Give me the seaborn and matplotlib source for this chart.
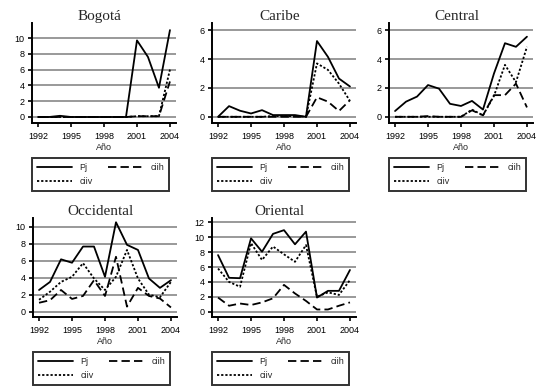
import matplotlib
matplotlib.use('Agg')
import matplotlib.pyplot as plt
import pandas as pd
import seaborn as sns

years = list(range(1992, 2005))

bogota_pj = [0, 0, 0.15, 0, 0, 0, 0, 0, 0, 9.7, 7.6, 3.7, 11.0]
bogota_ciih = [0, 0, 0, 0, 0, 0, 0, 0, 0, 0.1, 0.1, 0.1, 4.5]
bogota_ciiv = [0, 0, 0, 0, 0, 0, 0, 0, 0, 0.1, 0.1, 0.1, 6.0]

caribe_pj = [0, 0.74, 0.42, 0.23, 0.46, 0.12, 0.12, 0.12, 0, 5.25, 4.15, 2.65, 2.1]
caribe_ciih = [0, 0, 0, 0, 0, 0, 0, 0, 0, 1.35, 1.05, 0.4, 1.15]
caribe_ciiv = [0, 0, 0, 0, 0, 0.05, 0.05, 0.05, 0, 3.7, 3.25, 2.3, 1.1]

central_pj = [0.4, 1.05, 1.4, 2.2, 1.95, 0.9, 0.75, 1.1, 0.5, 3.0, 5.1, 4.85, 5.55]
central_ciih = [0, 0, 0, 0.05, 0, 0, 0, 0.45, 0.1, 1.5, 1.5, 2.3, 0.65]
central_ciiv = [0, 0, 0, 0, 0, 0, 0, 0.5, 0.1, 1.45, 3.6, 2.4, 4.85]

occidental_pj = [2.55, 3.5, 6.15, 5.75, 7.65, 7.65, 4.1, 10.5, 7.85, 7.25, 3.9, 2.8, 3.7]
occidental_ciih = [1.05, 1.35, 2.55, 1.5, 1.85, 3.7, 1.85, 6.45, 0.6, 2.8, 1.85, 1.55, 0.5]
occidental_ciiv = [1.4, 2.35, 3.5, 4.1, 5.7, 3.9, 2.55, 4.1, 7.25, 3.9, 2.0, 1.7, 3.5]

oriental_pj = [7.6, 4.55, 4.5, 9.85, 8.05, 10.45, 10.95, 9.05, 10.75, 1.9, 2.8, 2.8, 5.6]
oriental_ciih = [1.9, 0.8, 1.1, 0.9, 1.25, 1.8, 3.6, 2.45, 1.45, 0.3, 0.3, 0.8, 1.25]
oriental_ciiv = [5.8, 4.0, 3.35, 9.2, 6.95, 8.75, 7.7, 6.7, 8.95, 2.0, 2.6, 2.25, 4.25]

xticks = [1992, 1995, 1998, 2001, 2004]

sns.set_style('white')
plt.rcParams['font.family'] = ['Liberation Sans', 'DejaVu Sans']
plt.rcParams['lines.scale_dashes'] = False

W, H = 536, 389
fig = plt.figure(figsize=(W / 100, H / 100), dpi=100)

# paneles: titulo, datos, limites y, ticks y, posicion (px)
panels = [
    ('Bogotá', bogota_pj, bogota_ciih, bogota_ciiv, (-0.76, 11.9), range(0, 11, 2), 32, 23, 123),
    ('Caribe', caribe_pj, caribe_ciih, caribe_ciiv, (-0.43, 6.5), range(0, 7, 2), 212, 23, 123),
    ('Central', central_pj, central_ciih, central_ciiv, (-0.43, 6.5), range(0, 7, 2), 389, 23, 123),
    ('Occidental', occidental_pj, occidental_ciih, occidental_ciiv, (-0.62, 11.0), range(0, 11, 2), 33, 218, 317),
    ('Oriental', oriental_pj, oriental_ciih, oriental_ciiv, (-0.71, 12.58), range(0, 13, 2), 212, 218, 317),
]

dashes = {'Pj': '', 'ciih': (6, 3), 'ciiv': (1.6, 1.4)}

for title, pj, ciih, ciiv, ylim, yt, left, top, bottom in panels:
    h = bottom - top
    ax = fig.add_axes([left / W, 1 - bottom / H, 144 / W, h / H])
    df = pd.DataFrame({'Año': years, 'Pj': pj, 'ciih': ciih, 'ciiv': ciiv})
    long = df.melt(id_vars='Año', var_name='serie', value_name='valor')
    sns.lineplot(data=long, x='Año', y='valor', style='serie', dashes=dashes,
                 color='black', linewidth=1.3, ax=ax, legend=False)
    ax.set_xlim(1991.45, 2004.55)
    ax.set_ylim(*ylim)
    ax.set_xticks(xticks)
    ax.set_yticks(list(yt))
    for y in yt:
        ax.axhline(y, color='#999999', lw=1.4, zorder=0)
    for s in ['top', 'right']:
        ax.spines[s].set_visible(False)
    for s in ['left', 'bottom']:
        ax.spines[s].set_color('black')
        ax.spines[s].set_linewidth(1.4)
    ax.tick_params(axis='both', direction='out', length=3, width=1.2,
                   labelsize=6.5, pad=2.5, left=True, bottom=True, colors='black')
    ax.tick_params(axis='x', pad=3.5)
    ax.set_xlabel('Año', fontsize=6.5, labelpad=1.5)
    ax.set_ylabel('')
    ax.set_title(title, fontsize=11, family='Liberation Serif', pad=2, x=0.47)

    lines = ax.get_lines()
    handles = [lines[0], lines[2], lines[1]]
    leg = ax.legend(handles, ['Pj', 'ciiv', 'ciih'], ncol=2, mode='expand',
                    loc='upper left', bbox_to_anchor=(0, -35 / h, 137 / 144, 0),
                    fontsize=6.5, handlelength=3.9, handletextpad=0.8,
                    borderpad=0.55, labelspacing=0.6, frameon=True,
                    fancybox=False, borderaxespad=0)
    leg.get_frame().set_edgecolor('black')
    leg.get_frame().set_linewidth(1.4)

fig.savefig('out.png', dpi=100)
